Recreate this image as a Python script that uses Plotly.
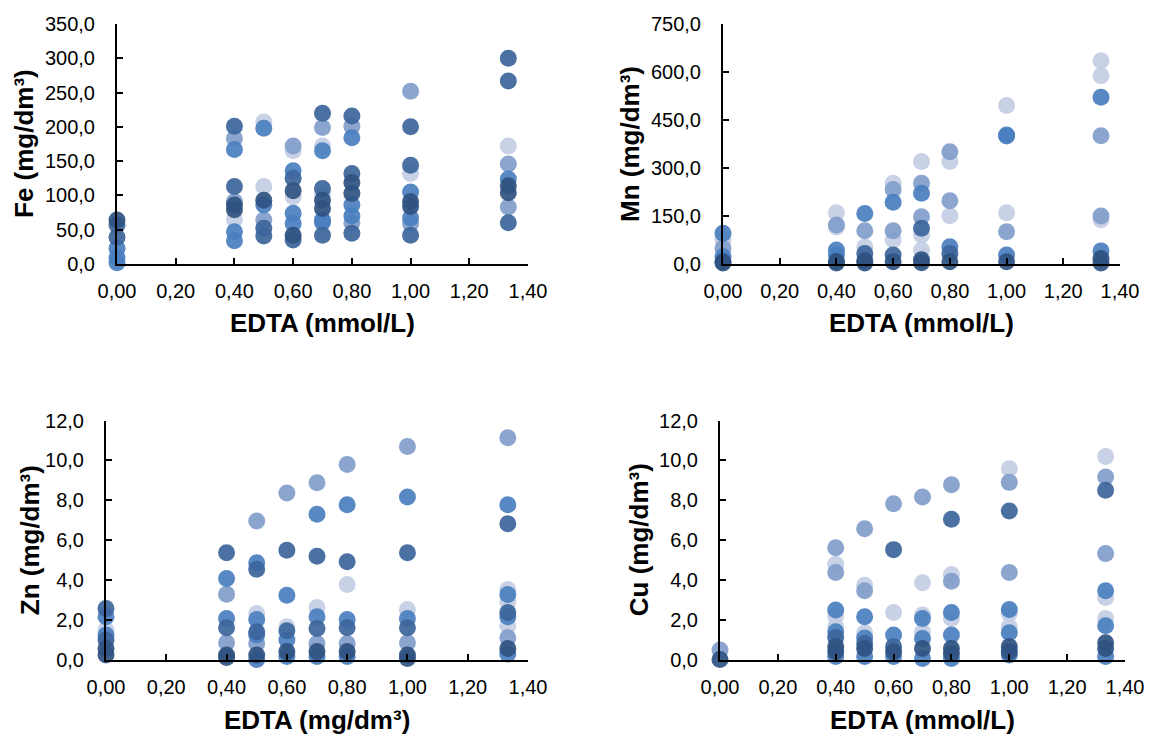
import plotly.graph_objects as go

# ---------------- data ----------------
# EDTA levels (mmol/L)
fe_x = [0,0,0,0,0,0,
        0.4,0.4,0.4,0.4,0.4,0.4,0.4,0.4,0.4,0.4,
        0.5,0.5,0.5,0.5,0.5,0.5,0.5,0.5,
        0.6,0.6,0.6,0.6,0.6,0.6,0.6,0.6,0.6,0.6,
        0.7,0.7,0.7,0.7,0.7,0.7,0.7,0.7,0.7,0.7,0.7,
        0.8,0.8,0.8,0.8,0.8,0.8,0.8,0.8,0.8,0.8,
        1.0,1.0,1.0,1.0,1.0,1.0,1.0,1.0,1.0,1.0,
        1.333,1.333,1.333,1.333,1.333,1.333,1.333,1.333,1.333]
fe_y = [64,57,39,23,9,2,
        201,183,167,113,91,86,79,65,47,34,
        207,198,113,93,86,64,52,41,
        172,165,136,125,107,98,74,59,42,35,
        220,199,172,165,110,102,93,81,64,61,42,
        216,201,184,132,119,103,86,70,60,45,
        252,200,144,132,105,91,84,67,59,42,
        300,267,172,146,124,114,104,83,60]
fe_s = ["D","MD","MD","M","M","M",
        "MD","ML","M","MD","ML","D","D","L","M","M",
        "L","M","L","D","M","ML","MD","MD",
        "ML","L","M","MD","D","L","M","M","D","MD",
        "MD","ML","L","M","MD","L","D","D","M","M","MD",
        "MD","ML","M","MD","D","D","M","M","ML","MD",
        "ML","MD","MD","L","M","D","D","M","ML","MD",
        "MD","MD","L","ML","M","D","D","ML","MD"]

mn_x = [0,0,0,0,0,0,
        0.4,0.4,0.4,0.4,0.4,0.4,0.4,
        0.5,0.5,0.5,0.5,0.5,0.5,
        0.6,0.6,0.6,0.6,0.6,0.6,0.6,
        0.7,0.7,0.7,0.7,0.7,0.7,0.7,0.7,0.7,
        0.8,0.8,0.8,0.8,0.8,0.8,0.8,
        1.0,1.0,1.0,1.0,1.0,1.0,1.0,
        1.333,1.333,1.333,1.333,1.333,1.333,1.333,1.333,1.333]
mn_y = [96,77,49,23,7,3,
        160,122,116,44,28,8,3,
        158,104,54,33,11,3,
        252,233,193,104,75,28,7,
        320,252,221,148,112,91,44,13,4,
        351,320,198,151,54,33,7,
        495,403,400,160,101,28,7,
        635,588,521,401,150,138,41,17,3]
mn_s = ["M","L","ML","M","D","D",
        "L","ML","L","M","M","D","D",
        "M","ML","L","MD","D","D",
        "L","ML","M","ML","L","MD","D",
        "L","ML","M","ML","MD","L","L","D","D",
        "ML","L","ML","L","M","MD","D",
        "L","M","M","L","ML","M","D",
        "L","L","M","ML","ML","L","M","D","D"]

zn_x = [0,0,0,0,0,0,0,
        0.4,0.4,0.4,0.4,0.4,0.4,0.4,0.4,
        0.5,0.5,0.5,0.5,0.5,0.5,0.5,0.5,0.5,0.5,
        0.6,0.6,0.6,0.6,0.6,0.6,0.6,0.6,
        0.7,0.7,0.7,0.7,0.7,0.7,0.7,0.7,0.7,
        0.8,0.8,0.8,0.8,0.8,0.8,0.8,0.8,0.8,
        1.0,1.0,1.0,1.0,1.0,1.0,1.0,1.0,1.0,
        1.333,1.333,1.333,1.333,1.333,1.333,1.333,1.333,1.333,1.333,1.333,1.333]
zn_y = [2.58,2.17,1.5,1.25,1.0,0.58,0.25,
        5.37,4.08,3.3,2.08,1.62,0.87,0.25,0.13,
        6.97,4.87,4.55,2.33,2.03,1.42,1.25,0.83,0.25,0.02,
        8.37,5.5,3.25,1.67,1.47,1.0,0.42,0.17,
        8.88,7.3,5.2,2.63,2.17,1.58,0.83,0.42,0.17,
        9.8,7.78,4.92,3.78,2.03,1.62,0.83,0.42,0.17,
        10.7,8.17,5.37,2.53,2.08,1.62,0.87,0.25,0.08,
        11.13,7.78,6.83,3.53,3.28,2.92,2.38,2.17,1.72,1.12,0.58,0.3]
zn_s = ["MD","M","L","M","MD","D","D",
        "MD","M","ML","M","MD","ML","D","D",
        "ML","M","MD","L","M","MD","M","ML","D","M",
        "ML","MD","M","L","MD","M","D","M",
        "ML","M","MD","L","M","MD","ML","D","M",
        "ML","M","MD","L","M","MD","ML","D","M",
        "ML","M","MD","L","M","MD","ML","D","D",
        "ML","M","MD","L","M","L","MD","M","L","ML","D","M"]

cu_x = [0,0,
        0.4,0.4,0.4,0.4,0.4,0.4,0.4,0.4,0.4,0.4,0.4,
        0.5,0.5,0.5,0.5,0.5,0.5,0.5,0.5,0.5,
        0.6,0.6,0.6,0.6,0.6,0.6,0.6,
        0.7,0.7,0.7,0.7,0.7,0.7,0.7,0.7,
        0.8,0.8,0.8,0.8,0.8,0.8,0.8,0.8,0.8,0.8,
        1.0,1.0,1.0,1.0,1.0,1.0,1.0,1.0,1.0,1.0,1.0,
        1.333,1.333,1.333,1.333,1.333,1.333,1.333,1.333,1.333,1.333,1.333]
cu_y = [0.5,0.03,
        5.62,4.8,4.38,2.5,2.2,1.67,1.42,1.13,0.67,0.42,0.17,
        6.58,3.75,3.47,2.17,1.37,1.1,0.83,0.58,0.17,
        7.83,5.53,2.38,1.25,0.67,0.42,0.17,
        8.17,3.87,2.25,2.08,1.4,1.08,0.58,0.08,
        8.78,7.05,4.28,3.95,2.38,2.08,1.25,0.58,0.33,0.08,
        9.58,8.9,7.47,4.38,2.53,2.33,1.67,1.37,0.67,0.42,0.25,
        10.2,9.17,8.5,5.33,3.47,3.13,2.08,1.72,0.87,0.58,0.17]
cu_s = ["ML","D",
        "ML","L","ML","M","L","L","M","MD","D","D","M",
        "ML","L","ML","M","L","M","MD","D","M",
        "ML","MD","L","M","MD","D","M",
        "ML","L","L","M","L","M","D","M",
        "ML","MD","L","ML","M","L","M","D","D","M",
        "L","ML","MD","ML","M","L","L","M","D","D","M",
        "L","ML","MD","ML","M","L","L","M","D","D","M"]

y_titles = ["Fe (mg/dm³)", "Mn (mg/dm³)", "Zn (mg/dm³)", "Cu (mg/dm³)"]
x_titles = ["EDTA (mmol/L)", "EDTA (mmol/L)", "EDTA (mg/dm³)", "EDTA (mmol/L)"]
y_ranges = [(0, 350), (0, 750), (0, 12), (0, 12)]
y_dticks = [50, 150, 2, 2]

# ---------------- styling ----------------
W, H = 1150, 736

def px(xp):
    return xp / W

def py(yp):
    return 1 - yp / H

series_order = ["L", "ML", "M", "MD", "D"]
series_color = {"L": "#c3cde3", "ML": "#819dcb", "M": "#4a7fbf",
                "MD": "#3c659b", "D": "#2f5281"}

# page-pixel boxes: (x0, x1, ytop, ybottom)
boxes = [(117, 528, 24, 264), (723, 1120, 24, 264),
         (106, 528, 420.5, 660), (720, 1125, 420.5, 660)]
xtitle_y = [323, 323, 720, 720]
ytitle_x = [24, 630, 30, 639]

panels = [(fe_x, fe_y, fe_s), (mn_x, mn_y, mn_s),
          (zn_x, zn_y, zn_s), (cu_x, cu_y, cu_s)]

fig = go.Figure()
FONT = "Liberation Sans, Arial, sans-serif"

for i, ((xs, ys, ss), (x0, x1, yt, yb)) in enumerate(zip(panels, boxes)):
    n = i + 1
    xa = "x" if n == 1 else f"x{n}"
    ya = "y" if n == 1 else f"y{n}"
    for s in series_order:
        sx = [x for x, g in zip(xs, ss) if g == s]
        sy = [y for y, g in zip(ys, ss) if g == s]
        fig.add_trace(go.Scatter(
            x=sx, y=sy, mode="markers", xaxis=xa, yaxis=ya,
            marker=dict(size=17, color=series_color[s], opacity=0.92,
                        line=dict(width=0)),
            cliponaxis=False, showlegend=False, hoverinfo="x+y"))
    axis_common = dict(showline=True, linecolor="black", linewidth=2,
                       ticks="inside", ticklen=6, tickwidth=2, tickcolor="black",
                       showgrid=False, zeroline=False, automargin=False,
                       tickfont=dict(family=FONT, size=20, color="black"))
    fig.layout[f"xaxis{'' if n == 1 else n}"] = dict(
        domain=[px(x0), px(x1)], anchor=ya, range=[0, 1.4], dtick=0.2,
        tick0=0, tickformat=".2f", ticklabelstandoff=8, **axis_common)
    fig.layout[f"yaxis{'' if n == 1 else n}"] = dict(
        domain=[py(yb), py(yt)], anchor=xa, range=list(y_ranges[i]),
        dtick=y_dticks[i], tick0=0, tickformat=".1f", ticklabelstandoff=16,
        **axis_common)
    fig.add_annotation(x=px((x0 + x1) / 2), y=py(xtitle_y[i]), xref="paper",
                       yref="paper", text=f"<b>{x_titles[i]}</b>", showarrow=False,
                       font=dict(family=FONT, size=26, color="black"),
                       xanchor="center", yanchor="middle")
    fig.add_annotation(x=px(ytitle_x[i]), y=py((yt + yb) / 2), xref="paper",
                       yref="paper", text=f"<b>{y_titles[i]}</b>", showarrow=False,
                       textangle=-90,
                       font=dict(family=FONT, size=26, color="black"),
                       xanchor="center", yanchor="middle")

fig.update_layout(width=W, height=H, margin=dict(l=0, r=0, t=0, b=0),
                  paper_bgcolor="white", plot_bgcolor="white",
                  separators=", ", showlegend=False)
fig.write_html(
    "out.html",
    post_script=("document.documentElement.style.overflow='hidden';"
                 "document.body.style.overflow='hidden';"
                 "document.body.style.margin='0';"),
)
